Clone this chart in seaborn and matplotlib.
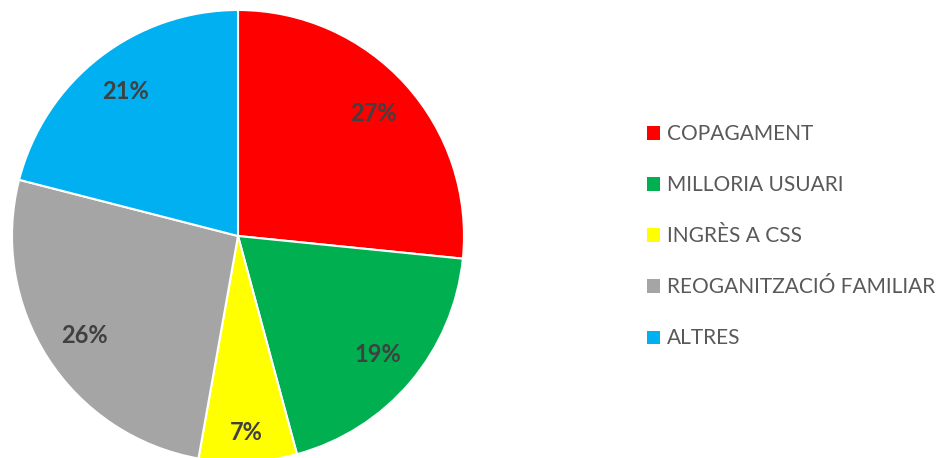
import matplotlib
matplotlib.use("Agg")
import matplotlib.pyplot as plt
import seaborn as sns
import numpy as np
from matplotlib.patches import Patch

categories = ["COPAGAMENT", "MILLORIA USUARI", "INGRÈS A CSS", "REOGANITZACIÓ FAMILIAR", "ALTRES"]
values = [26.6, 19.2, 7.0, 26.2, 21.0]
colors = ["#FF0000", "#00B050", "#FFFF00", "#A5A5A5", "#00B0F0"]

sns.set_theme(style="white")
plt.rcParams['font.family'] = ['Lato', 'DejaVu Sans']

W, H = 947, 458
fig = plt.figure(figsize=(W / 100, H / 100), dpi=100)
fig.patch.set_facecolor("white")

r = 226
cx, cy = 238, 236
ax = fig.add_axes([(cx - r) / W, (H - cy - r) / H, 2 * r / W, 2 * r / H])
wedges, texts, autotexts = ax.pie(
    values, colors=colors, startangle=90, counterclock=False,
    autopct="%.0f%%", pctdistance=0.81, radius=1,
    wedgeprops=dict(edgecolor="white", linewidth=1.5),
    textprops=dict(color="#404040", fontsize=17, fontweight="bold"),
)
# small slice label sits a bit further out
w = wedges[2]
mid = np.deg2rad((w.theta1 + w.theta2) / 2)
autotexts[2].set_position((0.87 * np.cos(mid), 0.87 * np.sin(mid)))

ax.set_xlim(-1, 1)
ax.set_ylim(-1, 1)
ax.set_aspect("equal")
ax.axis("off")

handles = [Patch(facecolor=c, edgecolor="none") for c in colors]
leg = fig.legend(handles, categories, loc="upper left",
                 bbox_to_anchor=(639 / W, 1 - 116 / H), frameon=False,
                 fontsize=15, labelcolor="#595959",
                 handlelength=0.62, handleheight=0.6, handletextpad=0.3,
                 labelspacing=1.49, borderaxespad=0)

fig.savefig("out.png", dpi=100, facecolor="white")
